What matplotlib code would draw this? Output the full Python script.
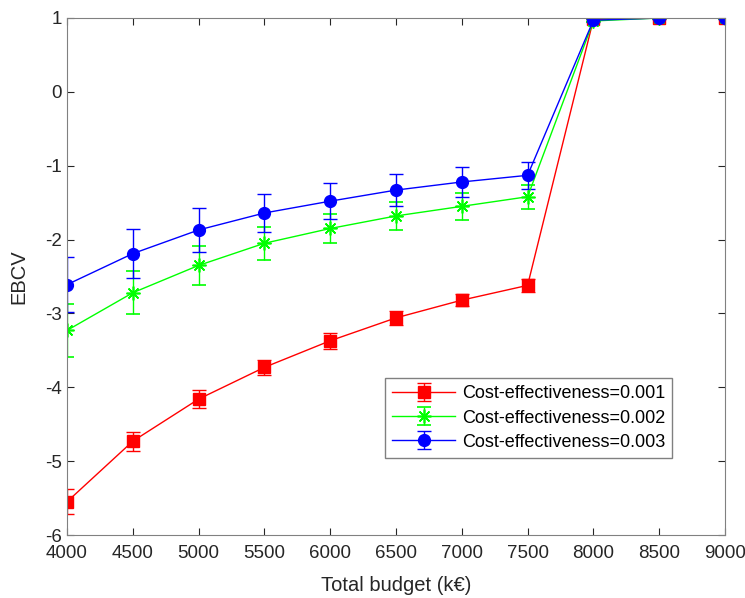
import matplotlib.pyplot as plt

plt.rcParams['font.family'] = ['Liberation Sans', 'DejaVu Sans']
plt.rcParams['axes.unicode_minus'] = False

budget = [4000, 4500, 5000, 5500, 6000, 6500, 7000, 7500, 8000, 8500, 9000]

ebcv_001 = [-5.55, -4.73, -4.16, -3.73, -3.37, -3.06, -2.82, -2.62, 0.98, 1.0, 1.0]
err_001 = [0.17, 0.13, 0.12, 0.10, 0.11, 0.09, 0.085, 0.09, 0.02, 0.01, 0.01]

ebcv_002 = [-3.23, -2.72, -2.35, -2.05, -1.85, -1.68, -1.55, -1.42, 0.96, 1.0, 1.0]
err_002 = [0.36, 0.29, 0.26, 0.22, 0.20, 0.19, 0.18, 0.16, 0.02, 0.01, 0.01]

ebcv_003 = [-2.61, -2.19, -1.87, -1.64, -1.48, -1.33, -1.22, -1.13, 0.97, 1.0, 1.0]
err_003 = [0.37, 0.33, 0.30, 0.26, 0.24, 0.22, 0.20, 0.18, 0.02, 0.01, 0.01]

labels = ["Cost-effectiveness=0.001", "Cost-effectiveness=0.002", "Cost-effectiveness=0.003"]

fig = plt.figure(figsize=(7.45, 5.98), dpi=100)
ax = fig.add_axes([67 / 745, 1 - 535 / 598, 658 / 745, 517 / 598])

ax.errorbar(budget, ebcv_001, yerr=err_001, color=(1, 0, 0), marker='s', markersize=9,
            linewidth=1, capsize=5, elinewidth=1, label=labels[0])
ax.errorbar(budget, ebcv_002, yerr=err_002, color=(0, 1, 0), marker=(8, 2, 0), markersize=10,
            markeredgewidth=1.2, linewidth=1, capsize=5, elinewidth=1, label=labels[1])
ax.errorbar(budget, ebcv_003, yerr=err_003, color=(0, 0, 1), marker='o', markersize=8.5,
            linewidth=1, capsize=5, elinewidth=1, label=labels[2])

ax.set_xlim(4000, 9000)
ax.set_ylim(-6, 1)
ax.set_xticks(budget)
ax.set_yticks(range(-6, 2))
ax.tick_params(direction='in', top=True, right=True, labelsize=13.5, colors='0.15', length=5)
ax.tick_params(axis='x', pad=7)
for s in ax.spines.values():
    s.set_color('0.5')
ax.set_xlabel("Total budget (k€)", fontsize=14.5, color='0.15', labelpad=10)
ax.set_ylabel("EBCV", fontsize=14.5, color='0.15', labelpad=12)

leg = ax.legend(loc='lower left', bbox_to_anchor=(318 / 658, (535 - 458) / 517),
                fontsize=13, fancybox=False, framealpha=1, edgecolor='0.5',
                borderaxespad=0, handlelength=3.5, handletextpad=0.35,
                labelspacing=0.4, borderpad=0.4)

fig.savefig("out.png", dpi=100)
